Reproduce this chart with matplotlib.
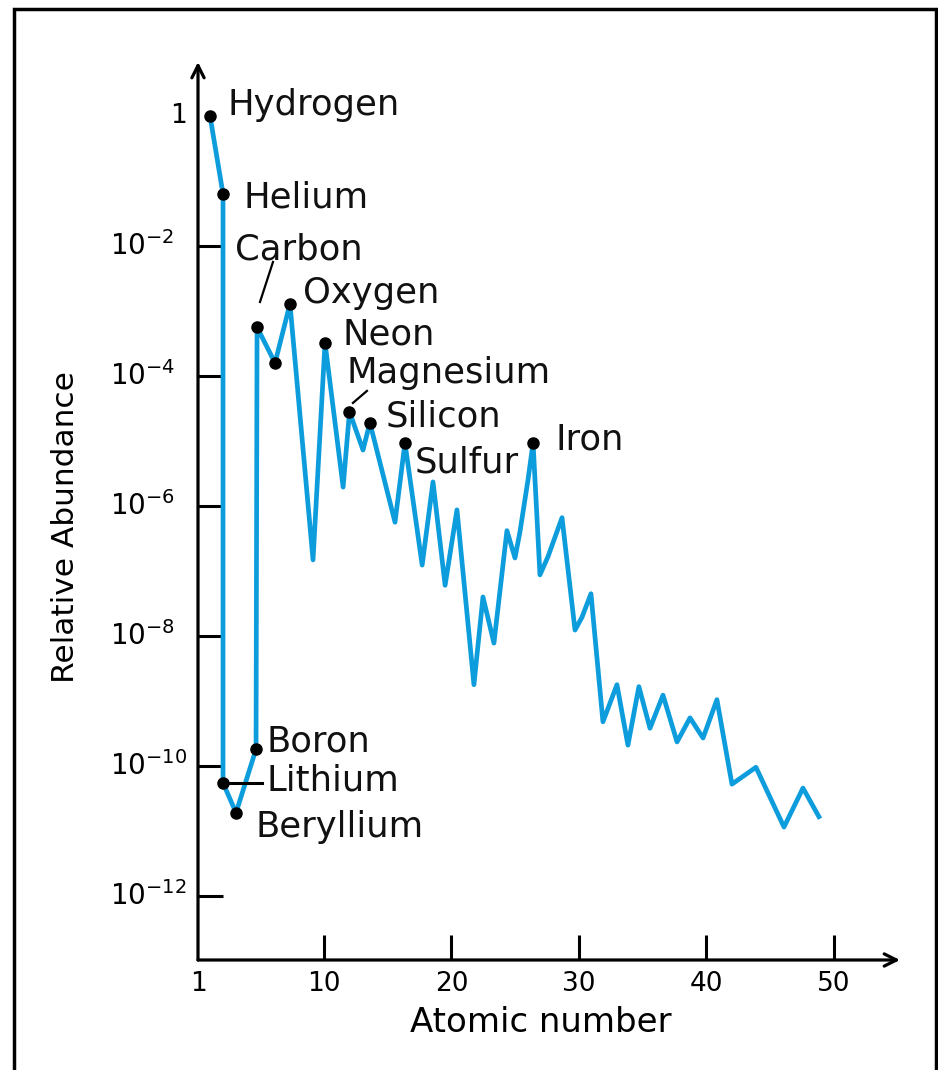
import matplotlib.pyplot as plt
import matplotlib.transforms as mtransforms
import numpy as np
from matplotlib.patches import Rectangle

# Dados (posição no eixo x e expoente da abundância)
z_line = [1.06, 2.08, 2.08, 3.1, 4.67, 4.75, 6.16, 7.33, 9.14, 10.08,
          11.5, 12.0, 13.06, 13.6, 15.57, 16.35, 17.7, 18.55, 19.5, 20.43,
          21.76, 22.47, 23.33, 24.35, 24.98, 25.37, 26.0, 26.4, 26.94, 27.57,
          28.67, 29.69, 30.24, 30.94, 31.88, 32.98, 33.84, 34.7, 35.57, 36.59,
          37.69, 38.71, 39.73, 40.82, 42.0, 43.88, 46.08, 47.57, 48.82]
log_abund = [0.0, -1.2, -10.26, -10.72, -9.74, -3.25, -3.8, -2.89, -6.83, -3.49,
             -5.71, -4.55, -5.14, -4.72, -6.25, -5.03, -6.91, -5.63, -7.22, -6.06,
             -8.75, -7.4, -8.11, -6.38, -6.8, -6.4, -5.6, -5.03, -7.06, -6.78,
             -6.18, -7.91, -7.71, -7.35, -9.32, -8.75, -9.68, -8.78, -9.42, -8.91,
             -9.63, -9.26, -9.57, -8.98, -10.28, -10.02, -10.94, -10.34, -10.78]

# Pontos marcados (índices na lista acima)
dot_idx = [0, 1, 2, 3, 4, 5, 6, 7, 9, 11, 13, 15, 27]

# Rótulos: nome, x, expoente da linha de base
names = ['Hydrogen', 'Helium', 'Carbon', 'Oxygen', 'Neon', 'Magnesium',
         'Silicon', 'Sulfur', 'Iron', 'Boron', 'Lithium', 'Beryllium']
name_z = [2.47, 3.65, 3.02, 8.35, 11.49, 11.8, 14.86, 17.14, 28.12, 5.53, 5.53, 4.59]
name_log = [0.015, -1.415, -2.215, -2.877, -3.523, -4.108, -4.785, -5.49,
            -5.138, -9.77, -10.385, -11.09]

xtick_pos = [0.118, 10, 20, 30, 40, 50]
xtick_lab = ['1', '10', '20', '30', '40', '50']
ytick_exp = [0, -2, -4, -6, -8, -10, -12]

abund = 10.0 ** np.array(log_abund)
z_line = np.array(z_line)

fig = plt.figure(figsize=(9.38, 10.70), dpi=100)
ax = fig.add_axes([198/938, 110/1070, (900-198)/938, (960-62)/1070])
ax.set_yscale('log')
ax.set_xlim(0.118, 55.18)
ax.set_ylim(10**-12.985, 10**0.83)

ax.plot(z_line, abund, color='#0d9ddc', lw=3.4, zorder=2)
ax.plot(z_line[dot_idx], abund[dot_idx], 'o', color='black', ms=8, zorder=3)

for n, zz, ll in zip(names, name_z, name_log):
    ax.text(zz, 10**ll, n, fontsize=25.5, va='baseline', ha='left', color='#111111')

# linhas de chamada
ax.plot([4.98, 6.0], [10**-2.862, 10**-2.246], color='black', lw=1.6)
ax.plot([2.08, 5.14], [10**-10.26, 10**-10.26], color='black', lw=2.2)
ax.plot([12.27, 13.37], [10**-4.415, 10**-4.23], color='black', lw=1.6)

for s in ax.spines.values():
    s.set_visible(False)
arr = dict(arrowstyle='->', lw=2.3, color='black', mutation_scale=22,
           shrinkA=0, shrinkB=0)
ax.annotate('', xy=(0, 1), xytext=(0, 0), xycoords='axes fraction', arrowprops=arr)
ax.annotate('', xy=(1, 0), xytext=(0, 0), xycoords='axes fraction', arrowprops=arr)

ax.set_xticks(xtick_pos)
ax.set_xticklabels(xtick_lab)
ax.set_yticks([10.0**e for e in ytick_exp])
ax.set_yticklabels([])
ax.minorticks_off()
ax.tick_params(direction='in', length=18, width=2.2, labelsize=19, pad=8)
ax.yaxis.get_major_ticks()[0].tick1line.set_visible(False)
ax.xaxis.get_major_ticks()[0].tick1line.set_visible(False)

# rótulos do eixo y alinhados à esquerda como no original
tr = mtransforms.blended_transform_factory(fig.transFigure, ax.transData)
ax.text(178/938, 1.0, '1', transform=tr, fontsize=19, ha='center', va='center')
for e in ytick_exp[1:]:
    ax.text(110/938, 10.0**e, '$10^{%d}$' % e, transform=tr, fontsize=20,
            ha='left', va='center')

fig.text(541/938, 1 - 1022/1070, 'Atomic number', fontsize=24.5, ha='center', va='center')
fig.text(66/938, 1 - 527/1070, 'Relative Abundance', fontsize=22.5, rotation=90,
         ha='center', va='center')

# moldura
fig.patches.append(Rectangle((14/938, -0.01), (936-14)/938, 1 - 9/1070 + 0.01,
                             transform=fig.transFigure, fill=False, lw=2.5,
                             edgecolor='black'))

fig.savefig('out.png', dpi=100)
